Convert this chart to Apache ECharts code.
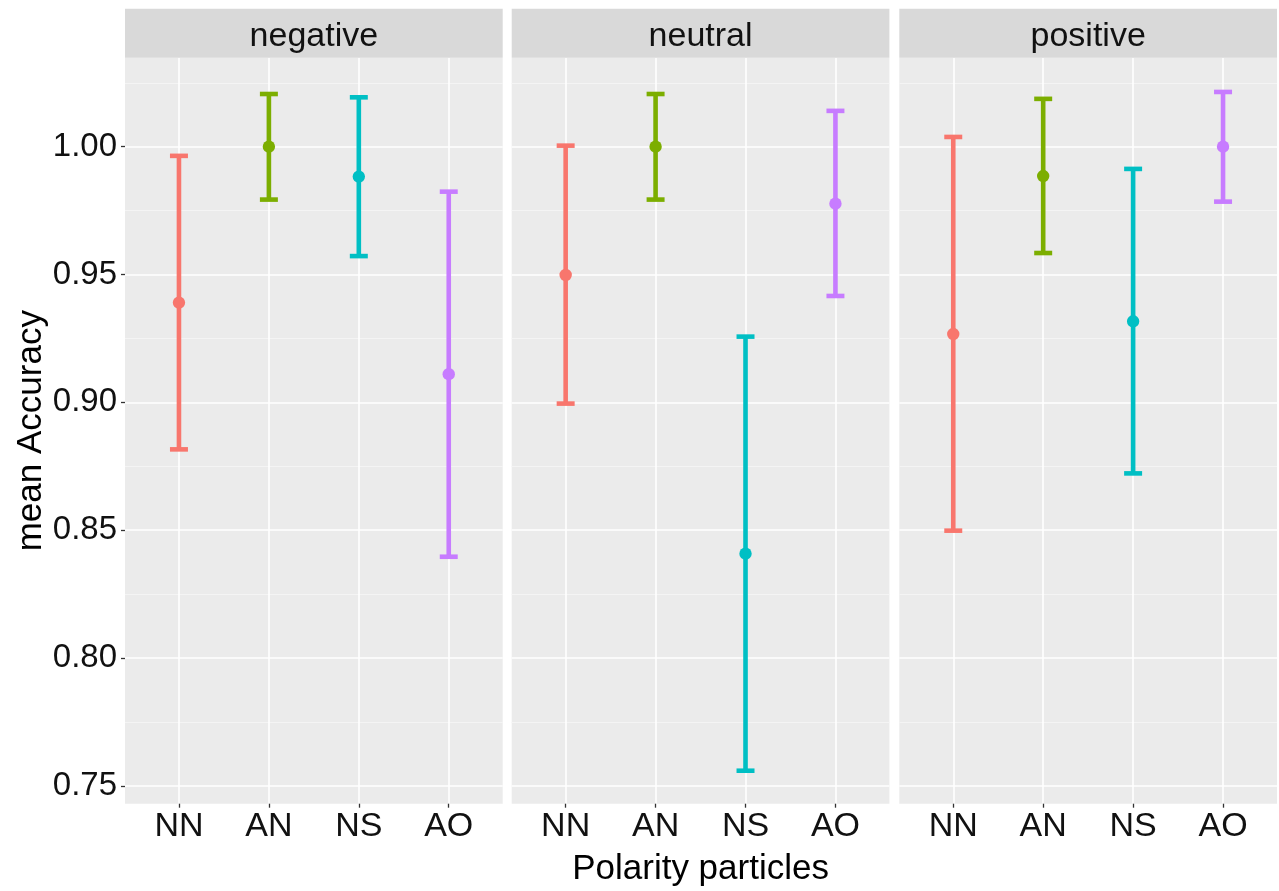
<!DOCTYPE html>
<html>
<head>
<meta charset="utf-8">
<title>mean Accuracy by polarity particle</title>
<script src="https://cdn.jsdelivr.net/npm/echarts@6/dist/echarts.min.js"></script>
<style>
  html, body { margin: 0; padding: 0; background: #ffffff; }
  #chart { width: 1279px; height: 891px; }
</style>
</head>
<body>
<div id="chart"></div>
<script>
// ---- data -------------------------------------------------------------
const categories = ['NN', 'AN', 'NS', 'AO'];
const facets = ['negative', 'neutral', 'positive'];

const negativeMean  = [0.9390, 1.0000, 0.9883, 0.9110];
const negativeLower = [0.8816, 0.9793, 0.9572, 0.8396];
const negativeUpper = [0.9964, 1.0206, 1.0193, 0.9824];

const neutralMean   = [0.9498, 1.0000, 0.8408, 0.9777];
const neutralLower  = [0.8995, 0.9793, 0.7559, 0.9416];
const neutralUpper  = [1.0004, 1.0206, 0.9257, 1.0140];

const positiveMean  = [0.9267, 0.9885, 0.9317, 1.0000];
const positiveLower = [0.8498, 0.9584, 0.8722, 0.9785];
const positiveUpper = [1.0038, 1.0187, 0.9913, 1.0214];

const yTicks = [0.75, 0.80, 0.85, 0.90, 0.95, 1.00];
const yMinorTicks = [0.775, 0.825, 0.875, 0.925, 0.975, 1.025];

// ---- styling / layout ---------------------------------------------------
const colors = ['#F8766D', '#7CAE00', '#00BFC4', '#C77CFF'];
const FONT = '"Liberation Sans", Arial, Helvetica, sans-serif';
const PANEL_LEFT = [125, 511.7, 899.3];
const PANEL_W = 377.7;
const PANEL_TOP = 57.7;
const PANEL_H = 746;
const STRIP_TOP = 8.7;
const STRIP_H = 49;
const Y_MIN = 0.743, Y_MAX = 1.0348;
const X_MIN = 0.4, X_MAX = 4.6;       // discrete positions 1..4 with 0.6 padding
const CAP_HALF = 0.1;                 // error bar cap half width, in category units

const facetData = [
  { mean: negativeMean, lower: negativeLower, upper: negativeUpper },
  { mean: neutralMean,  lower: neutralLower,  upper: neutralUpper },
  { mean: positiveMean, lower: positiveLower, upper: positiveUpper }
];

const grids = [], xAxes = [], yAxes = [], series = [], graphics = [];

facets.forEach(function (name, i) {
  grids.push({
    left: PANEL_LEFT[i], top: PANEL_TOP, width: PANEL_W, height: PANEL_H,
    containLabel: false, outerBoundsMode: 'none',
    show: true, backgroundColor: '#EBEBEB', borderWidth: 0
  });

  xAxes.push({
    type: 'value', gridIndex: i, min: X_MIN, max: X_MAX,
    axisLine: { show: false },
    axisTick: { show: true, length: 4, customValues: [1, 2, 3, 4],
                lineStyle: { color: '#333333', width: 1.3 } },
    axisLabel: {
      customValues: [1, 2, 3, 4], margin: 6,
      color: '#111111', fontSize: 34, fontFamily: FONT,
      formatter: function (v) { return categories[Math.round(v) - 1] || ''; }
    },
    splitLine: { show: true, lineStyle: { color: '#ffffff', width: 1.6 } },
    name: i === 1 ? 'Polarity particles' : '',
    nameLocation: 'middle', nameGap: 48,
    nameTextStyle: { color: '#000000', fontSize: 35, fontFamily: FONT }
  });

  // major grid + labels
  yAxes.push({
    type: 'value', gridIndex: i, min: Y_MIN, max: Y_MAX,
    axisLine: { show: false },
    axisTick: { show: i === 0, length: 4, customValues: yTicks,
                lineStyle: { color: '#333333', width: 1.3 } },
    axisLabel: {
      show: i === 0, customValues: yTicks, margin: 8,
      color: '#111111', fontSize: 33, fontFamily: FONT,
      formatter: function (v) { return v.toFixed(2); }
    },
    splitLine: { show: true, lineStyle: { color: '#ffffff', width: 1.6 } },
    name: i === 0 ? 'mean Accuracy' : '',
    nameLocation: 'middle', nameGap: 76,
    nameTextStyle: { color: '#000000', fontSize: 35, fontFamily: FONT }
  });

  // error bars with mean points
  const d = facetData[i];
  const rows = categories.map(function (c, k) {
    return [k + 1, d.lower[k], d.mean[k], d.upper[k]];
  });
  series.push({
    type: 'custom', name: name, xAxisIndex: i, yAxisIndex: i,
    data: rows, z: 5,
    renderItem: function (params, api) {
      const x = api.value(0), lo = api.value(1), mid = api.value(2), hi = api.value(3);
      const c = colors[params.dataIndex];
      const top = api.coord([x, hi]);
      const bot = api.coord([x, lo]);
      const tl = api.coord([x - CAP_HALF, hi]), tr = api.coord([x + CAP_HALF, hi]);
      const bl = api.coord([x - CAP_HALF, lo]), br = api.coord([x + CAP_HALF, lo]);
      const m = api.coord([x, mid]);
      const ls = { stroke: c, lineWidth: 4.6, lineCap: 'butt' };
      return {
        type: 'group',
        children: [
          { type: 'line', shape: { x1: top[0], y1: top[1], x2: bot[0], y2: bot[1] }, style: ls },
          { type: 'line', shape: { x1: tl[0], y1: tl[1], x2: tr[0], y2: tr[1] }, style: ls },
          { type: 'line', shape: { x1: bl[0], y1: bl[1], x2: br[0], y2: br[1] }, style: ls },
          { type: 'circle', shape: { cx: m[0], cy: m[1], r: 6.2 }, style: { fill: c } }
        ]
      };
    }
  });

  // facet strip
  graphics.push({
    type: 'rect', z: 1,
    shape: { x: PANEL_LEFT[i], y: STRIP_TOP, width: PANEL_W, height: STRIP_H },
    style: { fill: '#D9D9D9' }
  });
  graphics.push({
    type: 'text', z: 2,
    style: {
      text: name, x: PANEL_LEFT[i] + PANEL_W / 2, y: STRIP_TOP + STRIP_H / 2 + 3,
      textAlign: 'center', textVerticalAlign: 'middle',
      font: '34px ' + FONT, fill: '#111111'
    }
  });
});

// minor horizontal grid lines (thin, no labels)
facets.forEach(function (name, i) {
  yAxes.push({
    type: 'value', gridIndex: i, min: Y_MIN, max: Y_MAX, position: 'right',
    axisLine: { show: false },
    axisTick: { show: false, customValues: yMinorTicks },
    axisLabel: { show: false, customValues: yMinorTicks },
    splitLine: { show: true, lineStyle: { color: '#F5F5F5', width: 0.9 } }
  });
});

const chart = echarts.init(document.getElementById('chart'), null, { renderer: 'canvas' });
chart.setOption({
  animation: false,
  backgroundColor: '#ffffff',
  grid: grids,
  xAxis: xAxes,
  yAxis: yAxes,
  series: series,
  graphic: graphics
});
</script>
</body>
</html>
